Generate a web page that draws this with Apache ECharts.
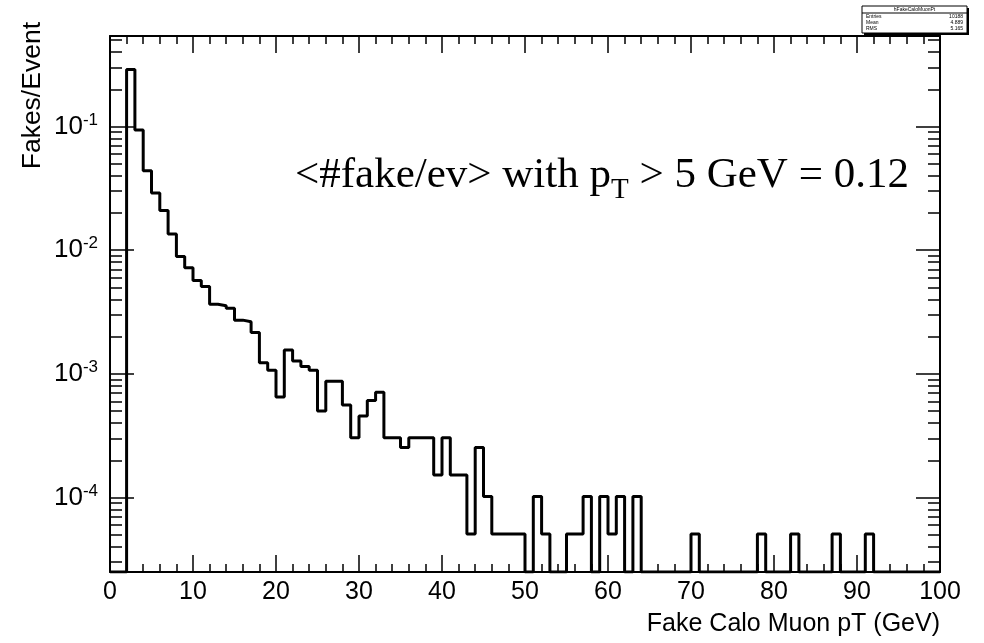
<!doctype html>
<html>
<head>
<meta charset="UTF-8">
<title>Fake Calo Muon pT</title>
<script type="text/javascript" src="https://cdn.jsdelivr.net/npm/echarts@6/dist/echarts.min.js"></script>
<style>
    html, body { margin: 0; padding: 0; background: #fff; }
    #container { width: 984px; height: 643px; }
</style>
</head>
<body>
<div id="container"></div>
<script type="text/javascript">

    // histogram: 100 bins of 1 GeV from 0 to 100, value = fakes per event (0 = empty bin)
    var binWidth = 1;
    var fakesPerEvent = [
        0, 0, 0.29, 0.094, 0.044, 0.029, 0.021, 0.0135, 0.0089, 0.0072,
        0.0057, 0.0051, 0.00365, 0.00356, 0.00339, 0.00272, 0.00264, 0.00216, 0.00123, 0.00107,
        0.00065, 0.00156, 0.00127, 0.00115, 0.00107, 0.0005, 0.00087, 0.00087, 0.00056, 0.000305,
        0.000457, 0.00061, 0.00071, 0.000305, 0.000305, 0.000254, 0.000305, 0.000305, 0.000305, 0.000152,
        0.000305, 0.000152, 0.000152, 0.0000508, 0.000254, 0.000102, 0.0000508, 0.0000508, 0.0000508, 0.0000508,
        0, 0.000102, 0.0000508, 0, 0, 0.0000508, 0.0000508, 0.000102, 0, 0.000102,
        0.0000508, 0.000102, 0, 0.000102, 0, 0, 0, 0, 0, 0,
        0.0000508, 0, 0, 0, 0, 0, 0, 0, 0.0000508, 0,
        0, 0, 0.0000508, 0, 0, 0, 0, 0.0000508, 0, 0,
        0, 0.0000508, 0, 0, 0, 0, 0, 0, 0, 0
    ];

    var xMin = 0, xMax = 100;
    var yMin = 2.5e-5, yMax = 0.54;
    var majorTicks = [1e-4, 1e-3, 1e-2, 1e-1];
    var mantissas = [2, 3, 4, 5, 6, 7, 8, 9];
    var decades = [1e-5, 1e-4, 1e-3, 1e-2, 1e-1];

    var xTitle = 'Fake Calo Muon pT (GeV)';
    var yTitle = 'Fakes/Event';
    var note = ['<#fake/ev> with p', 'T', ' > 5 GeV = 0.12'];
    var statsTitle = 'hFakeCaloMuonPt';
    var statsRows = [['Entries', '10188'], ['Mean', '4.889'], ['RMS', '5.165']];

    var minorTicks = [];
    decades.forEach(function (d) {
        mantissas.forEach(function (m) {
            var v = +(m * d).toPrecision(3);
            if (v >= yMin && v <= yMax) minorTicks.push(v);
        });
    });

    // low edge of each bin, empty bins drawn on the frame bottom like ROOT
    var points = [];
    for (var i = 0; i < fakesPerEvent.length; i++) {
        points.push([i * binWidth, fakesPerEvent[i] > 0 ? fakesPerEvent[i] : yMin]);
    }
    points.push([fakesPerEvent.length * binWidth, yMin]);

    var dom = document.getElementById("container");
    var myChart = echarts.init(dom);

    var font = 'Liberation Sans';
    var frame = {lineStyle: {color: '#000', width: 2}};

    function xAxis(pos, labels) {
        return {
            type: 'value', position: pos, min: xMin, max: xMax, interval: 10,
            axisLine: frame,
            axisTick: {inside: true, length: 17, lineStyle: {color: '#000', width: 1.5}},
            minorTick: {show: true, splitNumber: 5, length: 8, lineStyle: {color: '#000', width: 1.5}},
            axisLabel: {show: labels, color: '#000', fontFamily: font, fontSize: 25, margin: 8},
            splitLine: {show: false}
        };
    }

    function yAxis(pos, ticks, len, line, labels) {
        return {
            type: 'log', logBase: 10, position: pos, min: yMin, max: yMax,
            axisLine: {show: line, lineStyle: {color: '#000', width: 2}},
            axisTick: {show: true, inside: true, length: len, customValues: ticks,
                lineStyle: {color: '#000', width: 1.5}},
            axisLabel: {
                show: labels, customValues: majorTicks, margin: 12,
                formatter: function (v) {
                    return '{b|10}{s|' + Math.round(Math.log10(v)) + '}';
                },
                rich: {
                    b: {fontFamily: font, fontSize: 26, lineHeight: 30, color: '#000'},
                    s: {fontFamily: font, fontSize: 17, lineHeight: 17, color: '#000', verticalAlign: 'top'}
                }
            },
            splitLine: {show: false},
            minorTick: {show: false}
        };
    }

    var xOpt = xAxis('bottom', true);
    xOpt.name = xTitle;
    xOpt.nameLocation = 'end';
    xOpt.nameGap = 0;
    xOpt.nameMoveOverlap = false;
    xOpt.nameTextStyle = {fontFamily: font, fontSize: 25, color: '#000', align: 'right',
        verticalAlign: 'top', padding: [40, 0, 0, 0]};

    var statsX = 862, statsY = 6, statsW = 105, statsH = 27;
    var statsChildren = [
        {type: 'rect', shape: {x: 2, y: 2, width: statsW, height: statsH}, style: {fill: '#000'}},
        {type: 'rect', shape: {x: 0, y: 0, width: statsW, height: statsH}, style: {fill: '#fff', stroke: '#000', lineWidth: 1}},
        {type: 'line', shape: {x1: 0, y1: 7, x2: statsW, y2: 7}, style: {stroke: '#000', lineWidth: 1}},
        {type: 'text', x: statsW / 2, y: 1.5, style: {text: statsTitle, fontSize: 5, fontFamily: font, fill: '#000', align: 'center'}}
    ];
    statsRows.forEach(function (r, k) {
        statsChildren.push({type: 'text', x: 4, y: 8.5 + k * 6, style: {text: r[0], fontSize: 5, fontFamily: font, fill: '#000'}});
        statsChildren.push({type: 'text', x: statsW - 4, y: 8.5 + k * 6, style: {text: r[1], fontSize: 5, fontFamily: font, fill: '#000', align: 'right'}});
    });

    var option = {
        animation: false,
        backgroundColor: '#fff',
        grid: {left: 110, right: 44, top: 36, bottom: 71, containLabel: false},
        xAxis: [xOpt, xAxis('top', false)],
        yAxis: [
            yAxis('left', majorTicks, 24, true, true),
            yAxis('left', minorTicks, 12, false, false),
            yAxis('right', majorTicks, 24, true, false),
            yAxis('right', minorTicks, 12, false, false)
        ],
        graphic: [
            {
                type: 'text', x: 46, y: 22, rotation: Math.PI / 2,
                style: {text: yTitle, fontFamily: font, fontSize: 26.5, fill: '#000', align: 'right', verticalAlign: 'bottom'}
            },
            {
                type: 'text', x: 295, y: 154,
                style: {
                    text: '{m|' + note[0] + '}{s|' + note[1] + '}{m|' + note[2] + '}',
                    rich: {
                        m: {fontFamily: 'Liberation Serif', fontSize: 43, lineHeight: 43, verticalAlign: 'top', fill: '#000'},
                        s: {fontFamily: 'Liberation Serif', fontSize: 29, lineHeight: 29, padding: [22, 0, 0, 0], verticalAlign: 'top', fill: '#000'}
                    }
                }
            },
            {type: 'group', x: statsX, y: statsY, children: statsChildren}
        ],
        series: [{
            name: 'fakes',
            type: 'line',
            step: 'end',
            xAxisIndex: 0,
            yAxisIndex: 0,
            data: points,
            showSymbol: false,
            symbol: 'none',
            lineStyle: {color: '#000', width: 3},
            clip: true
        }]
    };

    myChart.setOption(option, true);

</script>
</body>
</html>
